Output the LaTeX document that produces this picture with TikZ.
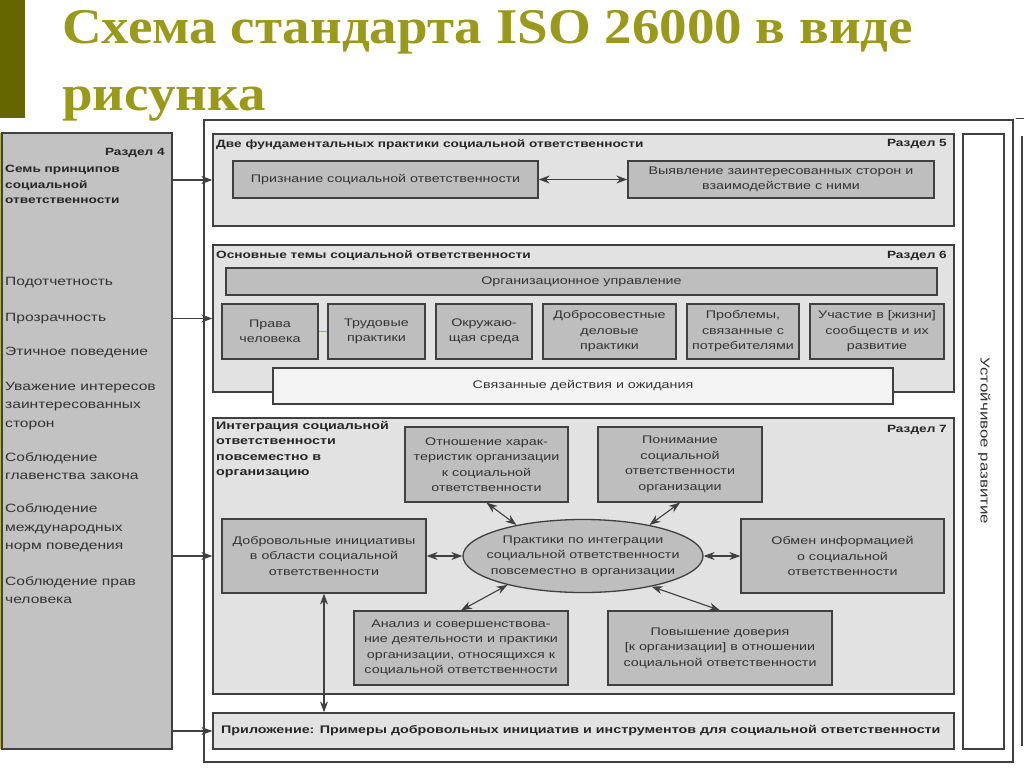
\documentclass[tikz,border=0pt]{standalone}
\usepackage{fontspec}
\setmainfont{Liberation Sans}[FakeStretch=1.3]
\newfontfamily\titleserif{Liberation Serif}[FakeStretch=1.1]
\usetikzlibrary{arrows.meta,shapes.geometric}

\definecolor{olivebar}{RGB}{102,102,0}
\definecolor{olivetext}{RGB}{153,153,26}
\definecolor{oliveline}{RGB}{180,180,70}
\definecolor{framec}{RGB}{64,64,64}
\definecolor{sectfill}{RGB}{226,226,226}
\definecolor{itemfill}{RGB}{190,190,190}
\definecolor{panelfill}{RGB}{194,194,194}
\definecolor{bandfill}{RGB}{244,244,244}

\newcommand\itemfont{\fontsize{11}{15.5}\selectfont}
\newcommand\listfont{\fontsize{12}{18.5}\selectfont}
\newcommand\headfont{\fontsize{10.5}{15.5}\selectfont\bfseries}

\tikzset{
  frame/.style={draw=framec, fill=white, line width=1.5pt},
  panel/.style={draw=framec, fill=panelfill, line width=1.3pt},
  sect/.style={draw=framec, fill=sectfill, line width=1.3pt},
  item/.style={draw=framec, fill=itemfill, line width=1.3pt, text=black!80, align=center, font=\itemfont, inner sep=0pt},
  band/.style={draw=framec, fill=bandfill, line width=1.3pt, text=black!80, font=\itemfont},
  headtext/.style={font=\headfont, text=black!85, inner sep=0pt, align=left},
  listtext/.style={font=\listfont, text=black!80, inner sep=0pt, align=left},
  link/.style={<->, draw=black!75, line width=1.1pt},
  feed/.style={->, draw=black!75, line width=1.1pt}
}

\begin{document}
\begin{tikzpicture}[x=1pt,y=-1pt,>={Stealth[length=11pt,width=8pt]}]
\useasboundingbox (0,0) rectangle (1024,768);
% title
\fill[olivebar] (0,0) rectangle (25,118);
\fill[oliveline] (0,133) rectangle (2.5,749);
\node[anchor=base west, inner sep=0pt, text=olivetext, font=\titleserif\fontsize{50}{60}\selectfont\bfseries] (tl1) at (62,44) {Схема стандарта ISO 26000 в виде};
\node[anchor=base west, inner sep=0pt, text=olivetext, font=\titleserif\fontsize{50}{60}\selectfont\bfseries] (tl2) at (62,110) {рисунка};

% section 4
\node[panel, minimum width=170pt, minimum height=616pt] (lp) at (87,441) {};
\node[headtext, anchor=east] (lp4) at (165,153) {Раздел 4};
\node[headtext, anchor=north west] (lph) at (5,165) {Семь принципов\\социальной\\ответственности};
\node[listtext, anchor=west] (pr1) at (5,283) {Подотчетность};
\node[listtext, anchor=west] (pr2) at (5,319) {Прозрачность};
\node[listtext, anchor=west] (pr3) at (5,353) {Этичное поведение};
\node[listtext, anchor=west] (pr4) at (5,406) {Уважение интересов\\заинтересованных\\сторон};
\node[listtext, anchor=west] (pr5) at (5,466) {Соблюдение\\главенства закона};
\node[listtext, anchor=west] (pr6) at (5,528) {Соблюдение\\международных\\норм поведения};
\node[listtext, anchor=west] (pr7) at (5,590) {Соблюдение прав\\человека};

\node[frame, minimum width=809pt, minimum height=642pt] (fr) at (608.5,441) {};
\draw[framec, line width=1.5pt] (1022,136) -- (1022,746);
\draw[framec, line width=0.6pt] (1016,118) -- (1024,118);

% section 5
\node[sect, minimum width=741pt, minimum height=92pt] (r5) at (583.5,180) {};
\node[headtext, anchor=west] (r5h) at (216,145) {Две фундаментальных практики социальной ответственности};
\node[headtext, anchor=east] (r5n) at (947,144) {Раздел 5};
\node[item, minimum width=305pt, minimum height=37pt] (pz) at (385.5,179.5) {Признание социальной ответственности};
\node[item, minimum width=306pt, minimum height=37pt] (vy) at (781,179.5) {Выявление заинтересованных сторон и\\взаимодействие с ними};
\draw[link] (pz) -- (vy);

% section 6
\node[sect, minimum width=741pt, minimum height=147pt] (r6) at (583.5,318.5) {};
\node[headtext, anchor=west] (r6h) at (216,256) {Основные темы социальной ответственности};
\node[headtext, anchor=east] (r6n) at (947,256) {Раздел 6};
\node[item, minimum width=711pt, minimum height=27pt] (ou) at (581.5,281.5) {Организационное управление};
\node[item, minimum width=96pt, minimum height=55pt] (t1) at (270,331.5) {Права\\человека};
\node[item, minimum width=97pt, minimum height=55pt] (t2) at (376.5,331.5) {Трудовые\\практики};
\node[item, minimum width=96pt, minimum height=55pt] (t3) at (484,331.5) {Окружаю-\\щая среда};
\node[item, minimum width=133pt, minimum height=55pt] (t4) at (609.5,331.5) {Добросовестные\\деловые\\практики};
\node[item, minimum width=112pt, minimum height=55pt] (t5) at (743,331.5) {Проблемы,\\связанные с\\потребителями};
\node[item, minimum width=134pt, minimum height=55pt] (t6) at (877,331.5) {Участие в [жизни]\\сообществ и их\\развитие};
\draw[blue!40, line width=0.6pt] (t1) -- (t2);
\node[band, minimum width=620pt, minimum height=36pt] (sv) at (583,386) {Связанные действия и ожидания};

% section 7
\node[sect, minimum width=741pt, minimum height=276pt] (r7) at (583.5,556) {};
\node[headtext, anchor=north west, font=\fontsize{11}{15.5}\selectfont\bfseries] (r7h) at (216,421) {Интеграция социальной\\ответственности\\повсеместно в\\организацию};
\node[headtext, anchor=east] (r7n) at (947,430) {Раздел 7};
\node[item, minimum width=163pt, minimum height=75pt] (ot) at (486.5,464.5) {Отношение харак-\\теристик организации\\к социальной\\ответственности};
\node[item, minimum width=164pt, minimum height=75pt] (pn) at (680,464.5) {Понимание\\социальной\\ответственности\\организации};
\node[item, minimum width=204pt, minimum height=74pt] (dv) at (324,556) {Добровольные инициативы\\в области социальной\\ответственности};
\node[ellipse, draw=framec, fill=itemfill, line width=1.3pt, minimum width=240pt, minimum height=73pt, inner sep=0pt] (pi) at (583,556) {};
\node[text=black!80, align=center, font=\itemfont, inner sep=0pt] (pit) at (pi) {Практики по интеграции\\социальной ответственности\\повсеместно в организации};
\node[item, minimum width=203pt, minimum height=74pt] (ob) at (842.5,556) {Обмен информацией\\о социальной\\ответственности};
\node[item, minimum width=214pt, minimum height=74pt] (an) at (461,648) {Анализ и совершенствова-\\ние деятельности и практики\\организации, относящихся к\\социальной ответственности};
\node[item, minimum width=224pt, minimum height=74pt] (pv) at (720,648) {Повышение доверия\\{[к организации]} в отношении\\социальной ответственности};
\draw[link] (ot.south) -- (pi.155);
\draw[link] (pn.south) -- (pi.25);
\draw[link] (dv) -- (pi);
\draw[link] (pi) -- (ob);
\draw[link] (pi.201) -- (an.north);
\draw[link] (pi.336) -- (pv.north);

% annex
\node[sect, minimum width=741pt, minimum height=36pt] (pl) at (583.5,731) {};
\node[headtext, anchor=west, font=\fontsize{11}{15.5}\selectfont\bfseries] (plt) at (221,731) {Приложение: Примеры добровольных инициатив и инструментов для социальной ответственности};
\draw[link] (dv.south) -- (dv.south |- pl.north);

% sustainable development
\node[draw=framec, fill=white, line width=1.3pt, minimum width=41pt, minimum height=615pt] (ur) at (983.5,441.5) {};
\node[rotate=-90, text=black!80, font=\fontsize{13}{15}\selectfont, inner sep=0pt] (urt) at (984,441) {Устойчивое развитие};

% links from section 4
\draw[feed] (lp.east |- r5.west) -- (r5.west);
\draw[feed] (lp.east |- r6.west) -- (r6.west);
\draw[feed] (lp.east |- r7.west) -- (r7.west);
\draw[feed] (lp.east |- pl.west) -- (pl.west);
\end{tikzpicture}
\end{document}
